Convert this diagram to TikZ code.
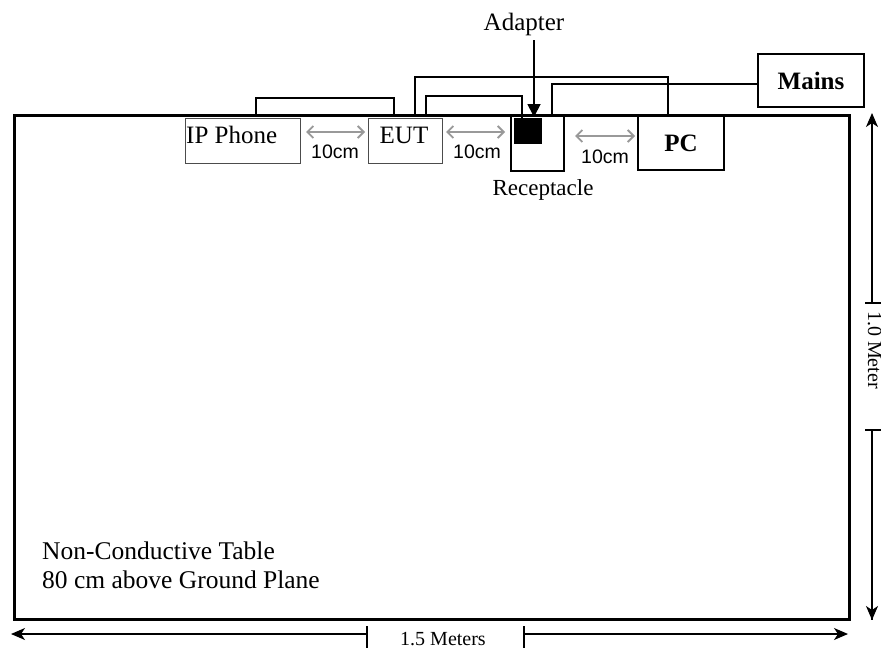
\documentclass[tikz,border=0pt]{standalone}
\usepackage{fontspec}
\setmainfont{Liberation Serif}
\newfontfamily\arialf{Liberation Sans}
\usetikzlibrary{arrows.meta}
\begin{document}
\begin{tikzpicture}[x=1pt,y=-1pt,
  tablebox/.style={draw,line width=3pt,inner sep=0pt},
  thinbox/.style={draw=black!70,line width=1pt,inner sep=0pt},
  medbox/.style={draw,line width=1.6pt,inner sep=0pt},
  cable/.style={line width=1.8pt,line join=miter},
  gap/.style={draw=black!40,line width=1.8pt,{Straight Barb[length=6pt,width=12pt]}-{Straight Barb[length=6pt,width=12pt]}},
  dim/.style={line width=1.3pt},
  txt/.style={font=\fontsize{25}{29}\selectfont,inner sep=0pt},
  small/.style={font=\arialf\fontsize{19.5}{22}\selectfont,inner sep=0pt},
  dimtxt/.style={font=\fontsize{20}{23}\selectfont,inner sep=0pt}]
\useasboundingbox (0,0) rectangle (881,648);
% table
\node[tablebox,minimum width=835pt,minimum height=504pt] (table) at (431.5,367) {};
% boxes
\node[thinbox,minimum width=115pt,minimum height=45pt] (ipphone) at (242.5,140.5) {};
\node[txt,anchor=base west] (iptxt) at (186,143) {IP Phone};
\node[thinbox,minimum width=74pt,minimum height=45pt] (eut) at (405,140.5) {};
\node[txt,anchor=base] (euttxt) at (404,143) {EUT};
\node[medbox,line width=2pt,minimum width=53pt,minimum height=55pt] (recep) at (537.5,143.5) {};
\node[fill=black,inner sep=0pt,minimum width=28pt,minimum height=26pt] (adapter) at (528,131) {};
\node[medbox,minimum width=86pt,minimum height=54pt,txt,font=\bfseries\fontsize{25}{29}\selectfont] (pc) at (681,143) {PC};
\node[medbox,line width=2pt,minimum width=106pt,minimum height=53pt,txt,font=\bfseries\fontsize{25}{29}\selectfont] (mains) at (811,80.5) {Mains};
\node[txt,anchor=base] (adtxt) at (524,30) {Adapter};
\node[txt,font=\fontsize{23}{27}\selectfont,anchor=base] (rectxt) at (543,195) {Receptacle};
% cable points
\coordinate (a1) at (256,115);
\coordinate (a2) at (394,115);
\coordinate (b1) at (415,115);
\coordinate (b2) at (668,116);
\coordinate (c1) at (426,115);
\coordinate (c2) at (522,118);
\coordinate (d1) at (552,116);
% cables
\draw[cable] (a1) -- (256,98) -- (394,98) -- (a2);
\draw[cable] (b1) -- (415,77) -- (668,77) -- (b2);
\draw[cable] (c1) -- (426,96) -- (522,96) -- (c2);
\draw[cable] (d1) -- (552,84) -- (mains.west |- 0,84);
% adapter arrow
\coordinate (adtop) at (534,40);
\draw[line width=1.8pt,-{Triangle[length=13pt,width=13pt]}] (adtop) -- (534,117);
% distance arrows
\coordinate (g1) at (306,132); \coordinate (g2) at (365,132);
\coordinate (g3) at (446,132); \coordinate (g4) at (505,132);
\coordinate (g5) at (575,136); \coordinate (g6) at (635,136);
\draw[gap] (g1) -- (g2);
\draw[gap] (g3) -- (g4);
\draw[gap] (g5) -- (g6);
\node[small] (l1) at (335,152) {10cm};
\node[small] (l2) at (477,152) {10cm};
\node[small] (l3) at (605,157) {10cm};
% dimension: vertical
\coordinate (v1) at (872,113); \coordinate (v2) at (872,303);
\coordinate (v3) at (872,430); \coordinate (v4) at (872,620);
\draw[dim,{Stealth[length=14pt,width=12pt,inset=4pt]}-] (v1) -- (v2);
\draw[dim] (865,303) -- (881,303);
\draw[dim] (v3) -- (v4) ;
\draw[dim,-{Stealth[length=14pt,width=12pt,inset=4pt]}] (v3) -- (v4);
\draw[dim] (865,430) -- (881,430);
\node[dimtxt,rotate=-90,anchor=base] (mtr) at (868,350) {1.0 Meter};
% dimension: horizontal
\coordinate (h1) at (11,634); \coordinate (h2) at (367,634);
\coordinate (h3) at (524,634); \coordinate (h4) at (848,634);
\draw[dim,{Stealth[length=14pt,width=12pt,inset=4pt]}-] (h1) -- (h2);
\draw[dim] (367,626) -- (367,648);
\draw[dim,-{Stealth[length=14pt,width=12pt,inset=4pt]}] (h3) -- (h4);
\draw[dim] (524,626) -- (524,648);
\node[dimtxt,anchor=base] (mtrs) at (443,645) {1.5 Meters};
% table caption
\node[txt,anchor=base west,font=\fontsize{25.5}{29}\selectfont] (cap1) at (42,559) {Non-Conductive Table};
\node[txt,anchor=base west,font=\fontsize{25.5}{29}\selectfont] (cap2) at (42,588) {80 cm above Ground Plane};
\end{tikzpicture}
\end{document}
